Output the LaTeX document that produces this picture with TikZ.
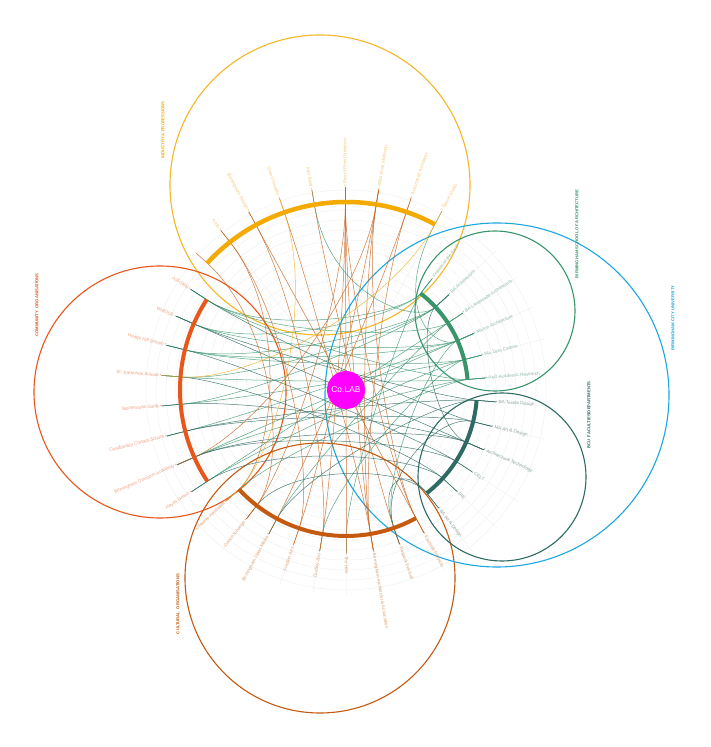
\documentclass[tikz,border=0pt]{standalone}
\usepackage{fontspec}
\setmainfont{Liberation Sans}
\setsansfont{Liberation Sans}
\usetikzlibrary{calc}
\definecolor{cInd}{HTML}{F4AA00}
\definecolor{cIndT}{HTML}{F6C97E}
\definecolor{cCom}{HTML}{E8561A}
\definecolor{cComT}{HTML}{F0A387}
\definecolor{cCul}{HTML}{C35A10}
\definecolor{cCulT}{HTML}{E2A77C}
\definecolor{cBsa}{HTML}{38956A}
\definecolor{cBsaT}{HTML}{93BDA8}
\definecolor{cFac}{HTML}{2E6B63}
\definecolor{cFacT}{HTML}{90A8A4}
\definecolor{cBcu}{HTML}{1DA7E0}
\definecolor{cMag}{HTML}{FF00FF}
\definecolor{cGrn}{HTML}{3F9A72}
\definecolor{cTeal}{HTML}{2E6B63}
\definecolor{cBrn}{HTML}{C8641E}
\definecolor{cYel}{HTML}{F2B01E}
\newcommand\placeleaf[5]{%
  \pgfmathsetmacro\lfang{-51.9+9.4737*#1}%
  \coordinate (L#1) at ($(C)+(\lfang:#2)$);%
  \coordinate (A#1) at ($(C)+(\lfang:#3)$);%
  \coordinate (K#1) at ($(C)+(\lfang:95)$);%
  \pgfmathtruncatemacro\lfside{cos(\lfang)>-0.01}%
  \ifnum\lfside=1
    \node[lbl,text=#4,anchor=west,rotate=\lfang] (T#1) at (L#1) {\textbullet\ #5};%
  \else
    \pgfmathsetmacro\lfrot{\lfang-180}%
    \node[lbl,text=#4,anchor=east,rotate=\lfrot] (T#1) at (L#1) {#5\ \textbullet};%
  \fi}
\newcommand\placestub[3]{%
  \pgfmathsetmacro\lfang{-51.9+9.4737*#1}%
  \coordinate (L#1) at ($(C)+(\lfang:#2)$);%
  \coordinate (A#1) at ($(C)+(\lfang:#3)$);%
  \coordinate (K#1) at ($(C)+(\lfang:95)$);}
\begin{document}
\begin{tikzpicture}[x=1pt,y=1pt,
  lbl/.style={font=\fontsize{4.6}{5}\selectfont, inner sep=0pt},
  grp/.style={font=\fontsize{4.2}{5}\selectfont\bfseries, inner sep=0pt, rotate=90},
  bigc/.style={line width=1.1pt},
  garc/.style={line width=4pt},
  edge/.style={line width=0.5pt, opacity=0.85},
  gridl/.style={draw=black!7, line width=0.3pt}]
\useasboundingbox[fill=white] (0,0) rectangle (710,747);
\coordinate (C) at (346,357);
% faint rings and radial grid
\foreach \r in {90,100,...,200} \draw[gridl] (C) circle[radius=\r];
\foreach \i in {0,...,37} {
  \pgfmathsetmacro\gang{-51.9+9.4737*\i}
  \draw[gridl] ($(C)+(\gang:90)$) -- ($(C)+(\gang:205)$);
}
% big group circles
\draw[bigc,cInd!85] (320,562) circle[radius=150];
\draw[bigc,cCom] (160,355) circle[radius=126];
\draw[bigc,cCul] (320,169) circle[radius=135];
\draw[bigc,cBcu] (497,352) circle[radius=172];
\draw[bigc,cBsa] (495,436) circle[radius=80];
\draw[bigc,cFac] (502,270) circle[radius=84];
% leaves
\foreach \i/\t in {0/BA Art \& Design,1/RIE,2/CELT,3/Architectural Technology,4/MA Art \& Design,5/BA Textile Design}
  {\placeleaf{\i}{150}{131}{cFacT}{\t}}
\foreach \i/\t in {6/PhD Academic Research,7/MA Zero Carbon,8/MArch Architecture,9/BA Landscape Architecture,10/BA Architecture,11/Friends of the Earth}
  {\placeleaf{\i}{140}{122}{cBsaT}{\t}}
\foreach \i/\t in {12/Space Studio,13/Associated Architects,14/RIBA West Midlands,15/Bryant Priest Newman,16/Kier Build,17/Glenn Howells,18/Birmingham Design,19/Arup}
  {\placeleaf{\i}{203}{188}{cIndT}{\t}}
\placestub{20}{203}{188}
\foreach \i/\t in {21/JOTORN,22/WHEISE,23/Hodge Hill School,24/St. Edmunds School,25/Stonehouse Gang,26/Chaddesley Corbett School,27/Birmingham Ormiston Academy,28/Hayes Green}
  {\placeleaf{\i}{185}{166}{cComT}{\t}}
\foreach \i/\t in {29/Creative Hardware,30/DanceXchange,31/Birmingham Open Media,32/Friction Arts,33/Dudley Zoo,34/The Hive,35/Birmingham Architectural Association,36/Flatpack Festival,37/Eastside Projects}
  {\placeleaf{\i}{163}{146}{cCulT}{\t}}
% edges
\foreach \a/\b in {11/21,11/22,11/34,10/23,10/24,10/25,10/16,9/21,9/28,9/31,8/22,8/26,8/27,8/36,8/23,8/12,7/23,7/25,7/33,7/28,6/24,6/27,6/29,6/21}
  \draw[edge,cGrn] (L\a) -- (A\a) .. controls (K\a) and (K\b) .. (A\b) -- (L\b);
\foreach \a/\b in {5/26,5/31,5/22,4/26,4/36,4/21,3/22,3/25,3/27,3/10,2/27,2/23,1/28,1/24,0/36,0/30}
  \draw[edge,cTeal] (L\a) -- (A\a) .. controls (K\a) and (K\b) .. (A\b) -- (L\b);
\foreach \a/\b in {15/30,15/33,15/34,15/35,15/37,14/32,14/35,14/37,13/35,13/31,18/33,18/37,19/32,19/29,20/30,17/35,16/36,27/14}
  \draw[edge,cBrn] (L\a) -- (A\a) .. controls (K\a) and (K\b) .. (A\b) -- (L\b);
\foreach \a/\b in {12/24,17/29}
  \draw[edge,cYel] (L\a) -- (A\a) .. controls (K\a) and (K\b) .. (A\b) -- (L\b);
% group arcs
\draw[garc,cFac] ($(C)+(-51.9:131)$) arc[start angle=-51.9,end angle=-4.5,radius=131];
\draw[garc,cBsa] ($(C)+(5.0:122)$) arc[start angle=5.0,end angle=52.3,radius=122];
\draw[garc,cInd,line width=4.5pt] ($(C)+(61.8:188)$) arc[start angle=61.8,end angle=137.6,radius=188];
\draw[garc,cCom] ($(C)+(147.0:166)$) arc[start angle=147.0,end angle=213.3,radius=166];
\draw[garc,cCul] ($(C)+(222.8:146)$) arc[start angle=222.8,end angle=298.6,radius=146];
% group titles
\node[grp,text=cInd] (gInd) at (163,617) {INDUSTRY \& PROFESSIONS};
\node[grp,text=cCom] (gCom) at (37,442) {COMMUNITY \ ORGANISATIONS};
\node[grp,text=cCul] (gCul) at (178,143) {CULTURAL \ ORGANISATIONS};
\node[grp,text=cBsa] (gBsa) at (577,513) {BIRMINGHAM SCHOOL OF ARCHITECTURE};
\node[grp,text=cFac] (gFac) at (589,332) {BCU \ FACULTIES/DEPARTMENTS};
\node[grp,text=cBcu] (gBcu) at (673,429) {BIRMINGHAM CITY UNIVERSITY};
% centre
\node[circle,fill=cMag,minimum size=38pt,inner sep=0pt,text=white,font=\fontsize{8.5}{9}\selectfont] (colab) at (C) {Co.LAB};
\end{tikzpicture}
\end{document}
